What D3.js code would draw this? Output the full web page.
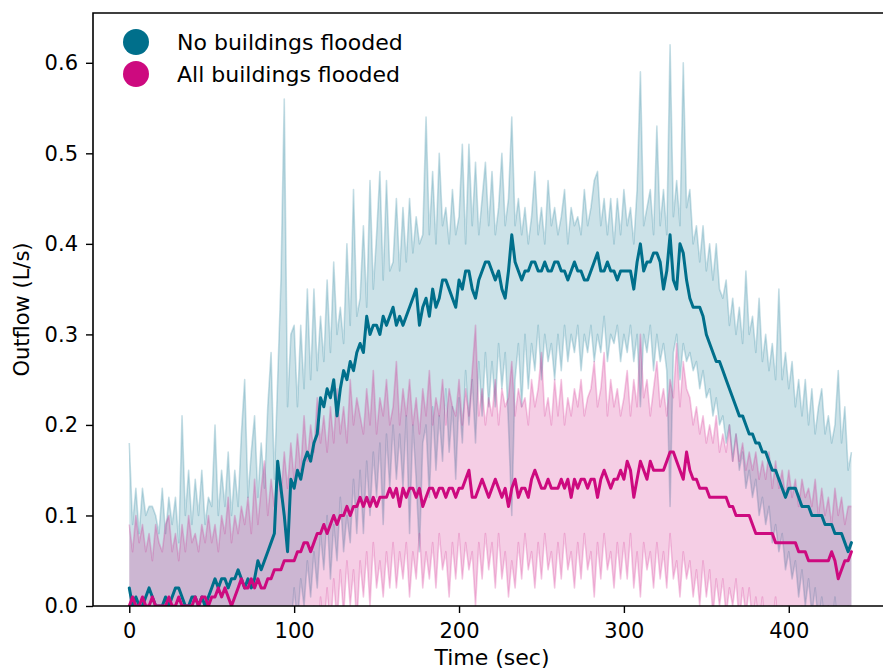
<!DOCTYPE html>
<html><head><meta charset="utf-8">
<script src="https://cdn.jsdelivr.net/npm/d3@7"></script>
<style>body{margin:0;background:#fff} svg{display:block} text{font-family:"DejaVu Sans",sans-serif;fill:#000}</style>
</head><body><svg id="c" width="883" height="671"></svg>
<script>
const seriesNames = ["No buildings flooded", "All buildings flooded"];
const seriesColors = ["#006f8b", "#cd0a7f"];
const yTicks = [0, 0.1, 0.2, 0.3, 0.4, 0.5, 0.6];
const xTicks = [0, 100, 200, 300, 400];
// sample times (s), every 2 s from 0 to 438
const timeSec = d3.range(0, 440, 2);

// No buildings flooded: mean, upper and lower band edges
const noMean = [
.02,.00,.01,.00,.00,.01,.02,.01,.00,.00,
.00,.01,.00,.01,.02,.02,.01,.00,.00,.01,
.01,.00,.01,.00,.01,.02,.03,.02,.03,.03,
.02,.03,.03,.04,.03,.02,.03,.02,.03,.05,
.04,.05,.06,.07,.08,.16,.13,.10,.06,.14,
.13,.15,.14,.16,.17,.16,.18,.19,.23,.22,
.24,.23,.25,.21,.24,.26,.25,.27,.26,.28,
.29,.28,.32,.30,.31,.31,.30,.32,.31,.32,
.33,.31,.32,.31,.32,.33,.34,.35,.31,.33,
.34,.32,.35,.33,.34,.36,.36,.35,.34,.33,
.36,.35,.37,.37,.35,.34,.36,.37,.38,.38,
.37,.36,.37,.35,.34,.37,.41,.38,.37,.36,
.37,.37,.38,.38,.37,.37,.38,.37,.37,.38,
.38,.37,.37,.36,.37,.38,.37,.37,.36,.36,
.37,.38,.39,.37,.37,.38,.37,.37,.36,.37,
.37,.37,.37,.35,.38,.40,.37,.38,.38,.39,
.39,.38,.35,.37,.41,.36,.35,.40,.39,.36,
.34,.33,.33,.33,.32,.30,.29,.28,.27,.27,
.26,.25,.24,.23,.22,.21,.21,.20,.19,.19,
.18,.18,.17,.17,.16,.15,.15,.14,.13,.12,
.13,.13,.13,.12,.11,.11,.11,.10,.10,.10,
.10,.09,.09,.09,.08,.08,.08,.07,.06,.07];
const noHigh = [
.18,.09,.13,.08,.13,.10,.11,.11,.10,.08,
.13,.08,.12,.09,.12,.07,.21,.10,.15,.09,
.14,.10,.15,.09,.12,.11,.20,.10,.15,.11,
.17,.10,.15,.11,.19,.25,.12,.17,.21,.12,
.18,.13,.22,.28,.14,.25,.36,.56,.22,.30,
.31,.22,.31,.24,.35,.25,.35,.26,.32,.27,
.36,.28,.38,.30,.33,.29,.40,.31,.46,.32,
.34,.42,.33,.47,.35,.41,.48,.36,.47,.37,
.38,.45,.37,.44,.38,.45,.39,.43,.40,.41,
.54,.41,.48,.40,.50,.42,.44,.40,.46,.41,
.43,.51,.40,.51,.42,.49,.41,.45,.49,.42,
.48,.41,.44,.50,.42,.45,.54,.42,.45,.41,
.44,.40,.43,.48,.41,.44,.40,.47,.42,.44,
.41,.43,.46,.40,.44,.42,.43,.41,.46,.42,
.44,.47,.48,.42,.45,.41,.45,.40,.45,.41,
.46,.42,.44,.40,.46,.59,.42,.44,.46,.41,
.53,.42,.46,.41,.62,.43,.47,.42,.60,.44,
.46,.40,.42,.38,.42,.37,.40,.36,.40,.35,
.34,.36,.31,.34,.30,.33,.29,.37,.30,.32,
.28,.34,.27,.30,.26,.29,.25,.35,.25,.28,
.24,.27,.22,.25,.21,.25,.20,.24,.19,.22,
.24,.19,.21,.18,.20,.26,.18,.22,.15,.17];
const noLow = [
-.10,-.06,-.09,-.07,-.08,-.07,-.08,-.06,-.07,-.06,
-.08,-.06,-.07,-.05,-.09,-.05,-.10,-.04,-.06,-.05,
-.07,-.05,-.07,-.04,-.08,-.04,-.07,-.04,-.06,-.04,
-.06,-.04,-.05,-.03,-.06,-.08,-.03,-.05,-.06,-.03,
-.05,-.02,-.06,-.04,-.07,-.02,-.05,-.10,-.20,-.03,
.02,-.02,.03,.00,.05,.01,.06,.02,.08,.04,
.10,.03,.09,.05,.12,.06,.10,.07,.14,.08,
.15,.08,.16,.10,.17,.12,.18,.09,.19,.13,
.20,.14,.19,.13,.21,.08,.20,.14,.06,.18,
.20,.12,.22,.15,.21,.16,.24,.17,.22,.14,
.23,.18,.26,.20,.25,.18,.27,.21,.28,.22,
.27,.22,.29,.24,.28,.20,.10,.25,.29,.22,
.30,.24,.29,.26,.31,.25,.30,.27,.29,.25,
.30,.26,.31,.27,.30,.28,.31,.26,.30,.28,
.31,.27,.30,.28,.32,.27,.30,.29,.31,.27,
.30,.28,.31,.27,.30,.22,.30,.28,.31,.26,
.30,.27,.29,.26,.11,.28,.30,.25,.29,.27,
.28,.26,.27,.24,.26,.23,.24,.21,.23,.20,
.21,.18,.20,.16,.19,.15,.17,.13,.15,.12,
.14,.10,.12,.09,.11,.07,.09,.06,.08,.04,
.06,.03,.05,.01,.04,.00,.03,-.01,.02,-.02,
.01,-.02,.00,-.03,.01,-.03,-.01,-.04,.00,-.02];

// All buildings flooded: mean, upper and lower band edges
const allMean = [
.00,.01,.00,.00,.01,.00,.00,.01,.00,.00,
.00,.00,.01,.00,.00,.01,.00,.00,.00,.00,
.01,.00,.01,.01,.00,.01,.01,.02,.01,.02,
.01,.00,.01,.02,.03,.02,.02,.03,.02,.03,
.02,.02,.03,.03,.04,.04,.04,.05,.05,.05,
.05,.06,.06,.07,.07,.06,.07,.08,.08,.09,
.08,.09,.10,.09,.10,.10,.11,.10,.11,.11,
.12,.11,.12,.11,.12,.11,.12,.12,.12,.13,
.12,.13,.11,.13,.12,.13,.13,.12,.13,.11,
.12,.13,.13,.12,.13,.13,.12,.13,.13,.12,
.13,.13,.14,.15,.12,.12,.13,.14,.13,.12,
.13,.14,.13,.12,.13,.11,.13,.14,.12,.13,
.13,.12,.14,.15,.14,.13,.13,.14,.13,.13,
.13,.14,.13,.14,.12,.14,.13,.14,.14,.13,
.14,.14,.12,.14,.15,.14,.13,.14,.14,.15,
.14,.16,.15,.12,.14,.16,.15,.14,.16,.15,
.15,.15,.15,.16,.17,.17,.16,.15,.14,.17,
.15,.14,.14,.13,.13,.13,.12,.12,.12,.12,
.12,.12,.11,.11,.10,.10,.10,.10,.10,.09,
.08,.08,.08,.08,.08,.08,.07,.07,.07,.07,
.07,.07,.07,.06,.06,.06,.05,.05,.05,.05,
.05,.05,.05,.06,.05,.03,.04,.05,.05,.06];
const allHigh = [
.09,.06,.10,.07,.09,.06,.08,.05,.09,.07,
.06,.09,.10,.06,.08,.05,.09,.06,.10,.07,
.08,.06,.09,.07,.10,.07,.09,.06,.10,.08,
.12,.07,.10,.08,.11,.09,.12,.08,.14,.09,
.13,.16,.10,.14,.11,.15,.12,.17,.13,.18,
.14,.19,.15,.21,.16,.20,.17,.23,.18,.21,
.17,.22,.18,.24,.19,.22,.18,.25,.20,.23,
.21,.19,.24,.20,.26,.19,.23,.21,.25,.20,
.22,.27,.20,.24,.21,.25,.20,.23,.19,.24,
.21,.26,.20,.23,.21,.25,.20,.24,.22,.21,
.25,.20,.24,.21,.26,.31,.21,.24,.20,.23,
.21,.25,.20,.24,.22,.23,.27,.21,.24,.22,
.23,.20,.25,.22,.24,.28,.21,.23,.20,.25,
.21,.25,.20,.23,.21,.24,.22,.25,.21,.23,
.24,.27,.22,.24,.28,.21,.25,.22,.24,.21,
.23,.26,.21,.25,.22,.30,.23,.25,.21,.24,
.27,.22,.24,.21,.25,.23,.29,.22,.27,.24,
.23,.20,.22,.19,.21,.18,.20,.18,.21,.17,
.19,.17,.20,.16,.19,.16,.18,.15,.17,.15,
.17,.14,.16,.14,.17,.13,.16,.13,.15,.12,
.15,.12,.14,.11,.14,.12,.13,.11,.14,.10,
.13,.10,.12,.09,.13,.10,.12,.09,.11,.11];
const allLow = [
-.09,-.06,-.10,-.07,-.09,-.06,-.08,-.05,-.09,-.07,
-.06,-.09,-.10,-.06,-.08,-.05,-.09,-.06,-.10,-.07,
-.08,-.06,-.09,-.07,-.09,-.06,-.08,-.05,-.08,-.05,
-.09,-.07,-.08,-.05,-.06,-.05,-.07,-.03,-.09,-.04,
-.08,-.11,-.05,-.08,-.04,-.07,-.04,-.08,-.03,-.07,
-.03,-.06,-.02,-.07,-.02,-.05,.00,-.06,.01,-.03,
.02,-.03,.03,-.02,.04,-.01,.05,.00,.04,-.02,
.05,.01,.06,.00,.07,.02,.05,.01,.06,.02,
.07,.02,.06,.03,.07,.01,.06,.03,.08,.02,
.06,.03,.07,.02,.08,.04,.06,.01,.07,.03,
.08,.03,.07,.04,.06,.00,.07,.03,.08,.04,
.07,.02,.08,.03,.06,.01,.05,.02,.07,.03,
.08,.04,.06,.02,.07,.03,.08,.04,.06,.02,
.07,.03,.08,.04,.06,.02,.07,.03,.08,.04,
.06,.01,.07,.03,.08,.04,.06,.02,.07,.03,
.07,.03,.08,.02,.06,.01,.07,.04,.06,.02,
.07,.03,.06,.02,.08,.03,.05,.01,.06,.03,
.05,.01,.04,.00,.05,.01,.04,-.01,.03,.00,
.03,-.01,.02,.00,.03,-.02,.02,-.01,.02,-.02,
.01,-.02,.01,-.03,.00,-.02,.01,-.03,.00,-.02,
.00,-.03,-.01,-.02,.00,-.04,-.01,-.02,.00,-.03,
-.01,-.03,.00,-.04,-.01,-.02,-.03,-.04,-.02,-.03];

const svg = d3.select("#c");
const L = 93, R = 891, T = 13, B = 606;
const x = d3.scaleLinear().domain([-22, 462]).range([L, R]);
const y = d3.scaleLinear().domain([0, 0.655]).range([B, T]);

svg.append("defs").append("clipPath").attr("id", "clip")
  .append("rect").attr("x", L).attr("y", T).attr("width", R - L).attr("height", B - T);

const groups = [
  {mean: noMean, hi: noHigh, lo: noLow, color: seriesColors[0]},
  {mean: allMean, hi: allHigh, lo: allLow, color: seriesColors[1]}
];
const plot = svg.append("g").attr("clip-path", "url(#clip)");

const area = arr => d3.area().x((d, i) => x(timeSec[i])).y0((d, i) => y(arr.lo[i])).y1((d, i) => y(arr.hi[i]));
const lineOf = vals => d3.line().x((d, i) => x(timeSec[i])).y((d, i) => y(vals[i]));

groups.forEach(g => {
  plot.append("path").attr("d", area(g)(timeSec))
    .attr("fill", g.color).attr("fill-opacity", 0.2).attr("stroke", "none");
  [g.hi, g.lo].forEach(v => {
    plot.append("path").attr("d", lineOf(v)(timeSec))
      .attr("fill", "none").attr("stroke", g.color).attr("stroke-opacity", 0.22)
      .attr("stroke-width", 1.6).attr("stroke-linejoin", "round");
  });
});
groups.forEach(g => {
  plot.append("path").attr("d", lineOf(g.mean)(timeSec))
    .attr("fill", "none").attr("stroke", g.color).attr("stroke-width", 3)
    .attr("stroke-linejoin", "round").attr("stroke-linecap", "round");
});

// axes
const ax = svg.append("g").attr("transform", `translate(0,${B})`)
  .call(d3.axisBottom(x).tickValues(xTicks).tickFormat(d3.format("d")).tickSize(7).tickPadding(10));
const ay = svg.append("g").attr("transform", `translate(${L},0)`)
  .call(d3.axisLeft(y).tickValues(yTicks).tickFormat(d3.format(".1f")).tickSize(7).tickPadding(8));
[ax, ay].forEach(a => {
  a.select(".domain").remove();
  a.selectAll(".tick line").attr("stroke", "#000").attr("stroke-width", 1.4);
  a.selectAll(".tick text").attr("font-size", 21).attr("font-family", "DejaVu Sans").attr("fill", "#000");
});

// spines
svg.append("path").attr("d", `M${L},${T}V${B}H${883}M${L},${T}H${883}`)
  .attr("fill", "none").attr("stroke", "#000").attr("stroke-width", 1.6).attr("stroke-linecap", "square");

// labels
svg.append("text").attr("x", (L + R) / 2).attr("y", 665).attr("text-anchor", "middle")
  .attr("font-size", 22).text("Time (sec)");
svg.append("text").attr("transform", `translate(29,${(T + B) / 2}) rotate(-90)`)
  .attr("text-anchor", "middle").attr("font-size", 21).text("Outflow (L/s)");

// legend
const leg = svg.append("g");
seriesNames.forEach((n, i) => {
  leg.append("circle").attr("cx", 136).attr("cy", 42 + i * 32).attr("r", 13).attr("fill", seriesColors[i]);
  leg.append("text").attr("x", 177).attr("y", 42 + i * 32).attr("dy", "0.35em")
    .attr("font-size", 22).text(n);
});
</script></body></html>
